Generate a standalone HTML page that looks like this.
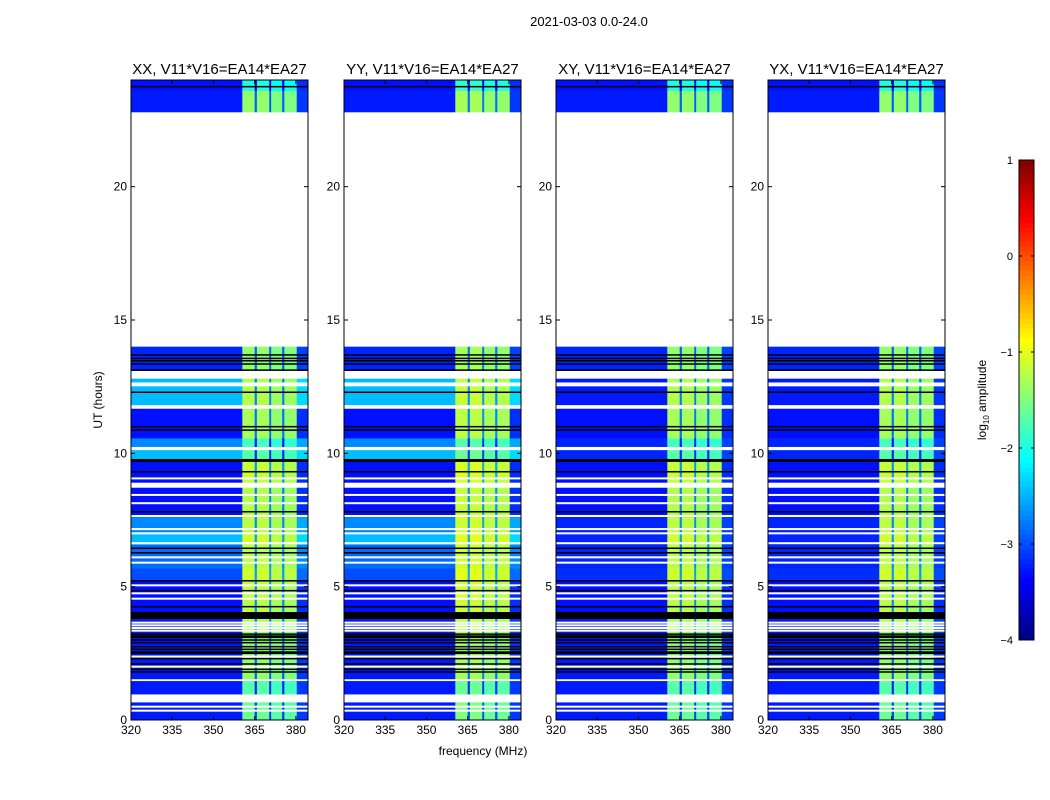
<!DOCTYPE html>
<html><head><meta charset="utf-8"><style>
html,body{margin:0;padding:0;background:#fff;}
svg{display:block;font-family:"Liberation Sans","DejaVu Sans",sans-serif;}
</style></head><body>
<svg id="fig" width="1050" height="800" viewBox="0 0 1050 800">
<text x="589" y="26" font-size="13" text-anchor="middle">2021-03-03 0.0-24.0</text>
<text x="483" y="755" font-size="12" text-anchor="middle">frequency (MHz)</text>
<text transform="translate(102,400) rotate(-90)" font-size="12" text-anchor="middle">UT (hours)</text>
<g id="panels"></g>
<g id="cbar"></g>
</svg>
<script>
// ---- data ----
const panelTitles = ["XX, V11*V16=EA14*EA27","YY, V11*V16=EA14*EA27","XY, V11*V16=EA14*EA27","YX, V11*V16=EA14*EA27"];
const panelUsesBgA = [1,1,0,0];
const panelBandOffset = [0,0.1,0,0];
const freqEdges = [320,360.5,365,365.8,370.3,371,375,375.8,380.3,384.4];
const chanIsBand = [0,1,1,1,1,1,1,1,0];
const chanGain = [0,0,-1.5,0,-1.5,-0.1,-1.5,-0.1,0.15];
const segT0 = [0,0.66,0.97,1.46,1.54,3.3,3.8,4.06,5.22,5.69,6.58,7.0,7.62,8.71,8.91,9.69,9.8,10.12,10.25,10.57,11.75,12.8,13.1,14.0,22.8,23.6];
const segT1 = [0.66,0.97,1.46,1.54,3.3,3.8,4.06,5.22,5.69,6.58,7.0,7.62,8.71,8.91,9.69,9.8,10.12,10.25,10.57,11.75,12.8,13.1,14.0,22.8,23.6,24];
const segKind = ["d","w","d","w","d","d","k","d","d","d","d","d","d","w","d","k","d","w","d","d","d","w","d","w","d","d"];
const segBgA = [-3.25,0,-3.25,0,-3.25,-3.25,0,-3.3,-3.0,-2.85,-2.45,-2.7,-3.3,0,-3.3,0,-2.45,0,-2.7,-3.3,-2.45,0,-3.2,0,-3.25,-3.3];
const segBgB = [-3.25,0,-3.25,0,-3.25,-3.25,0,-3.3,-3.15,-3.2,-3.2,-3.2,-3.3,0,-3.3,0,-3.2,0,-3.2,-3.3,-3.25,0,-3.2,0,-3.25,-3.3];
const segBand = [-1.6,0,-1.7,0,-1.4,-1.3,0,-1.2,-1.1,-1.2,-1.1,-1.2,-1.25,0,-1.15,0,-1.7,0,-1.8,-1.3,-1.25,0,-1.4,0,-1.4,-2.0];
const whiteLines = [0.35,0.5,2.0,2.38,3.35,3.45,3.55,3.65,4.55,4.75,5.05,5.9,6.1,6.63,7.0,7.16,7.65,8.13,8.44,9.06,11.71,11.77,12.55,12.62];
const blackLines = [1.8,1.9,2.1,2.3,2.5,2.55,2.65,2.75,2.9,3.0,3.1,3.15,3.22,4.25,4.85,5.22,6.27,6.44,7.81,9.31,10.87,11.0,12.29,13.12,13.35,13.47,13.56,13.69,23.75];
const xTicks = [320,335,350,365,380];
const yTicks = [0,5,10,15,20];
const cbTicks = [1,0,-1,-2,-3,-4];
// ---- layout ----
const panelLeft = [131,344,556,768], PW=177, PT=80, PB=720;
const vmin=-4, vmax=1;
const NS="http://www.w3.org/2000/svg";
function el(tag,attrs,parent){const e=document.createElementNS(NS,tag);for(const k in attrs)e.setAttribute(k,attrs[k]);parent.appendChild(e);return e;}
function clamp(v){return Math.max(0,Math.min(1,v));}
function jet(v){const t=clamp((v-vmin)/(vmax-vmin));
 const r=clamp(1.5-Math.abs(4*t-3)),g=clamp(1.5-Math.abs(4*t-2)),b=clamp(1.5-Math.abs(4*t-1));
 return `rgb(${Math.round(r*255)},${Math.round(g*255)},${Math.round(b*255)})`;}
const panels=document.getElementById('panels');
panelTitles.forEach((title,p)=>{
 const L=panelLeft[p];
 const xs=f=>L+(f-320)/(384.4-320)*PW;
 const ys=h=>PB-h/24*(PB-PT);
 const g=el('g',{},panels);
 
 
 el('rect',{x:L,y:PT,width:PW,height:PB-PT,fill:'#fff'},g);
 for(let i=0;i<segT0.length;i++){
  const y0=ys(segT1[i]),y1=ys(segT0[i]);
  if(segKind[i]==='w')continue;
  for(let j=0;j<chanIsBand.length;j++){
   let fill;
   if(segKind[i]==='k')fill='#000';
   else{const bg=panelUsesBgA[p]?segBgA[i]:segBgB[i];
    const v=chanIsBand[j]?segBand[i]+panelBandOffset[p]+chanGain[j]:bg+chanGain[j];
    fill=jet(v);}
   const x0=xs(freqEdges[j]),x1=xs(freqEdges[j+1]);
   const c=el('rect',{x:x0,y:y0,width:x1-x0+0.3,height:y1-y0+0.3,fill:fill},g);
   
   
  }
 }
 whiteLines.forEach(h=>{const r=el('rect',{x:L,y:ys(h)-1,width:PW,height:2,fill:'#fff'},g);
  
  });
 blackLines.forEach(h=>{const r=el('rect',{x:L,y:ys(h)-0.75,width:PW,height:1.5,fill:'#000'},g);
  
  });
 el('rect',{x:L,y:PT,width:PW,height:PB-PT,fill:'none',stroke:'#000','stroke-width':1},g);
 const t=el('text',{x:L+PW/2,y:74,'font-size':15,'text-anchor':'middle'},g);t.textContent=title;
 
 
 xTicks.forEach(f=>{const x=xs(f);
  el('line',{x1:x,x2:x,y1:PB,y2:PB-4,stroke:'#000'},g);el('line',{x1:x,x2:x,y1:PT,y2:PT+4,stroke:'#000'},g);
  const tx=el('text',{x:x,y:PB+14,'font-size':12,'text-anchor':'middle'},g);tx.textContent=f;
  
  });
 yTicks.forEach(h=>{const y=ys(h);
  el('line',{x1:L,x2:L+4,y1:y,y2:y,stroke:'#000'},g);el('line',{x1:L+PW,x2:L+PW-4,y1:y,y2:y,stroke:'#000'},g);
  const ty=el('text',{x:L-4,y:y+4,'font-size':12,'text-anchor':'end'},g);ty.textContent=h;
  
  });
});
// colorbar
const cb=document.getElementById('cbar');
const CX=1019,CW=15,CT=160,CB=640;
const cy=v=>CB-(v-vmin)/(vmax-vmin)*(CB-CT);
for(let k=0;k<100;k++){const v0=vmin+k*(vmax-vmin)/100,v1=vmin+(k+1)*(vmax-vmin)/100;
 el('rect',{x:CX,y:cy(v1),width:CW,height:cy(v0)-cy(v1)+0.5,fill:jet((v0+v1)/2)},cb);}
el('rect',{x:CX,y:CT,width:CW,height:CB-CT,fill:'none',stroke:'#000'},cb);
cbTicks.forEach(v=>{const y=cy(v);
 el('line',{x1:CX,x2:CX+3,y1:y,y2:y,stroke:'#000'},cb);el('line',{x1:CX+CW,x2:CX+CW-3,y1:y,y2:y,stroke:'#000'},cb);
 const t=el('text',{x:1013,y:y+4,'font-size':11,'text-anchor':'end'},cb);t.textContent=v<0?'\u2212'+(-v):v;
 
 });
const lab=el('text',{transform:'translate(986,400) rotate(-90)','font-size':12,'text-anchor':'middle'},cb);
lab.innerHTML='log<tspan font-size="8" dy="3">10</tspan><tspan dy="-3"> amplitude</tspan>';


</script>
</body></html>
